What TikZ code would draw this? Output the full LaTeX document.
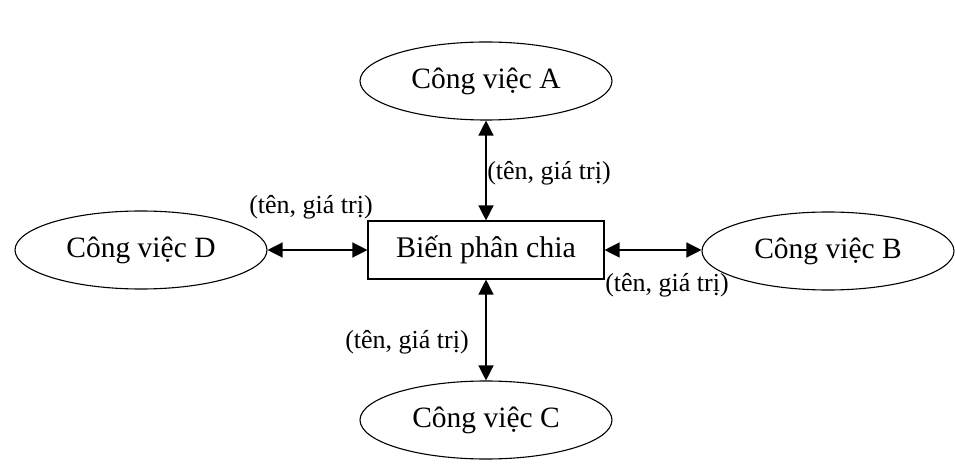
\documentclass[tikz,border=0pt]{standalone}
\usepackage{fontspec}
\setmainfont{Liberation Serif}
\usetikzlibrary{shapes.geometric,arrows.meta}
\tikzset{
  task/.style={draw, ellipse, line width=1.1pt, minimum width=252pt, minimum height=78pt,
    inner sep=0pt, font=\fontsize{29.5}{32}\selectfont},
  store/.style={draw, rectangle, line width=1.1pt, minimum width=236pt, minimum height=58pt,
    inner sep=0pt, font=\fontsize{30}{33}\selectfont},
  pair/.style={font=\fontsize{26}{28}\selectfont, inner sep=0pt},
  link/.style={line width=1.3pt, {Triangle[length=15pt,width=15pt]}-{Triangle[length=15pt,width=15pt]}}
}
\begin{document}
\begin{tikzpicture}[x=1pt,y=-1pt]
  \useasboundingbox (0,0) rectangle (955,470);
  % shared variable in the middle, four tasks around it
  \node[store] (var) at (486,250) {Biến phân chia};
  \node[task] (A) at (486,81) {Công việc A};
  \node[task] (B) at (828,251) {Công việc B};
  \node[task] (C) at (486,420) {Công việc C};
  \node[task] (D) at (141,250) {Công việc D};
  % (name, value) exchanges
  \draw[link] (A.south -| var.north) -- (var.north);
  \draw[link] (var.south) -- (C.north);
  \draw[link] (D.east) -- (var.west);
  \draw[link] (var.east) -- (var.east -| B.west);
  \node[pair] (la) at (549,173) {(tên, giá trị)};
  \node[pair] (lc) at (407,342) {(tên, giá trị)};
  \node[pair] (ld) at (311,207) {(tên, giá trị)};
  \node[pair] (lb) at (667,285) {(tên, giá trị)};
\end{tikzpicture}
\end{document}
